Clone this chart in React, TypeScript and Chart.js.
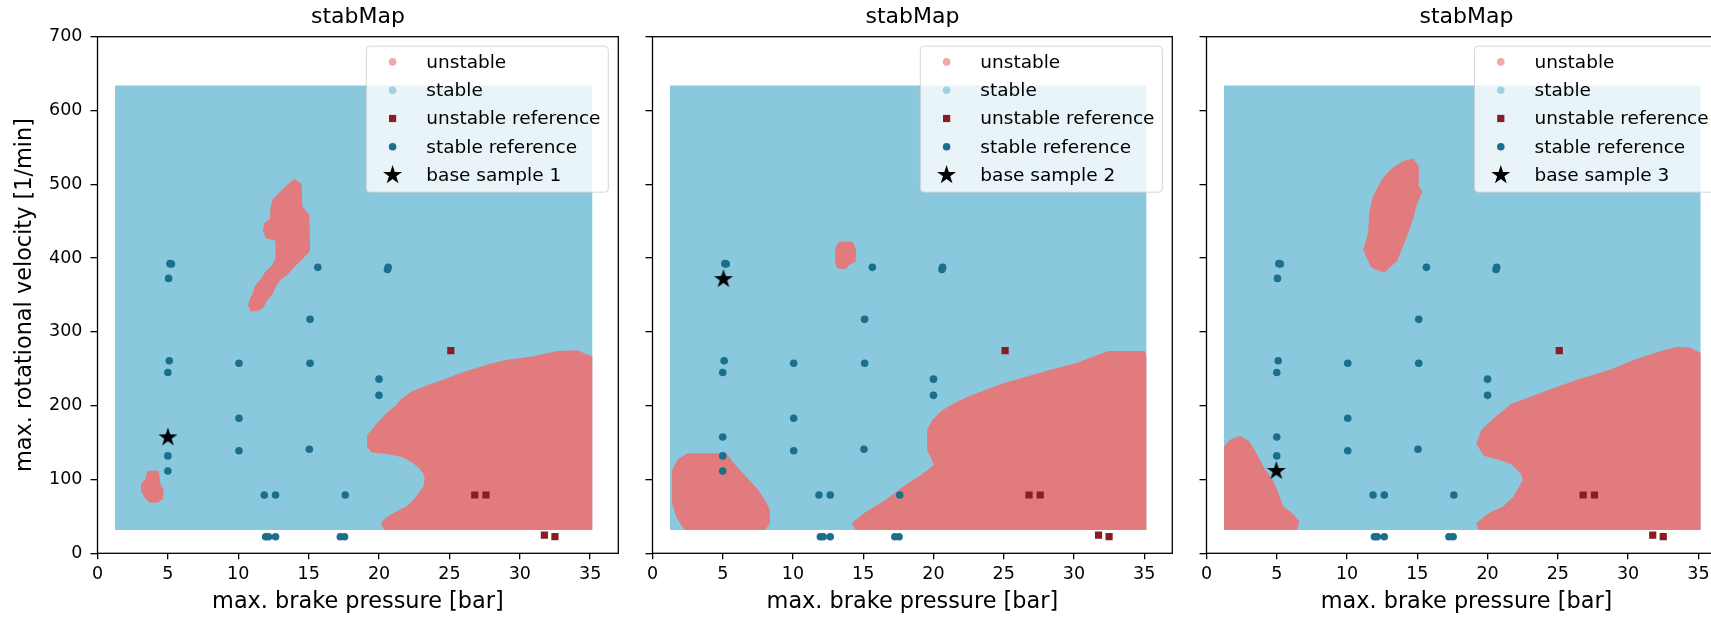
import React, { useEffect, useRef } from "react";
import { Chart, registerables } from "chart.js";

Chart.register(...registerables);

const FONT = "'DejaVu Sans', 'Liberation Sans', sans-serif";

// ---- axes ----
const X_TICKS = [0, 5, 10, 15, 20, 25, 30, 35];
const Y_TICKS = [0, 100, 200, 300, 400, 500, 600, 700];
const X_MIN = 0;
const X_MAX = 37;
const Y_MIN = 0;
const Y_MAX = 700;

// ---- texts ----
const PANEL_TITLES = ["stabMap", "stabMap", "stabMap"];
const X_LABEL = "max. brake pressure [bar]";
const Y_LABEL = "max. rotational velocity [1/min]";
const LEGEND_LABELS = ["unstable", "stable", "unstable reference", "stable reference"];
const BASE_LABELS = ["base sample 1", "base sample 2", "base sample 3"];

// ---- stability map: outline of the evaluated grid [pressure, velocity] ----
const STABLE_AREA: [number, number][] = [
  [1.3, 32.5], [35.1, 32.5], [35.1, 633], [1.3, 633], [1.3, 32.5],
];

// unstable regions, map 1
const UNSTABLE_1_A: [number, number][] = [
  [14.0, 506], [14.45, 500], [14.5, 470], [15.0, 458], [15.05, 410], [14.4, 397], [13.9, 388],
  [13.5, 379], [12.9, 370], [12.6, 361], [12.4, 352], [12.0, 343], [11.75, 334], [11.4, 329],
  [10.9, 329], [10.75, 336], [10.85, 344], [11.1, 352], [11.2, 361], [11.6, 370], [11.9, 379],
  [12.45, 390], [12.7, 400], [12.7, 424], [12.0, 428], [11.8, 438], [11.9, 447], [12.3, 452],
  [12.35, 470], [12.5, 479], [13.15, 492], [13.6, 500], [14.0, 506],
];
const UNSTABLE_1_B: [number, number][] = [
  [3.6, 111], [4.3, 111], [4.4, 95], [4.65, 85], [4.6, 74], [4.3, 70], [3.7, 70], [3.4, 76],
  [3.15, 84], [3.15, 94], [3.45, 100], [3.55, 108], [3.6, 111],
];
const UNSTABLE_1_C: [number, number][] = [
  [20.4, 32.5], [20.2, 40], [20.5, 47], [20.9, 52], [21.5, 58], [22.0, 63], [22.5, 72],
  [22.85, 81], [23.2, 90], [23.3, 100], [23.2, 108], [22.85, 117], [22.3, 125], [21.7, 131],
  [20.5, 136], [19.5, 137.7], [19.2, 145], [19.2, 160], [19.5, 166], [20.0, 178], [20.6, 190],
  [21.2, 199], [21.6, 208], [22.3, 218], [23.5, 227], [24.8, 236], [26.2, 246], [27.6, 254],
  [29.0, 261], [31.0, 266], [32.7, 273], [34.1, 274], [35.1, 266], [35.1, 32.5], [20.4, 32.5],
];

// unstable regions, map 2
const UNSTABLE_2_A: [number, number][] = [
  [13.3, 421], [14.2, 421], [14.45, 412], [14.4, 396], [14.0, 392], [13.7, 386], [13.2, 387],
  [13.05, 395], [13.05, 413], [13.3, 421],
];
const UNSTABLE_2_B: [number, number][] = [
  [2.5, 134.5], [5.2, 134.5], [5.95, 117], [6.7, 101.6], [7.47, 85.8], [8.0, 70], [8.3, 58.7],
  [8.3, 41], [8.0, 32.5], [2.3, 32.5], [1.74, 49.6], [1.45, 67.7], [1.45, 113], [1.86, 127],
  [2.5, 134.5],
];
const UNSTABLE_2_C: [number, number][] = [
  [14.5, 32.5], [14.24, 40.6], [15.13, 54.2], [16.66, 72.2], [17.93, 90.3], [19.2, 106],
  [20.1, 119.6], [19.6, 140], [19.6, 167], [19.97, 180.6], [20.74, 194], [21.76, 205],
  [22.53, 212], [23.8, 221], [25.08, 230], [26.35, 237], [28.4, 248], [30.2, 257],
  [31.46, 266], [32.5, 273], [35.03, 273], [35.1, 266], [35.1, 32.5], [14.5, 32.5],
];

// unstable regions, map 3
const UNSTABLE_3_A: [number, number][] = [
  [14.68, 534], [15.05, 524], [15.05, 497], [15.31, 490], [14.93, 474], [14.68, 456],
  [14.3, 433.6], [13.9, 415], [13.53, 397], [12.64, 381.6], [11.75, 388], [11.2, 411],
  [11.55, 433.6], [11.63, 460.7], [11.88, 483], [12.52, 506], [13.28, 521.7], [14.04, 530.7],
  [14.68, 534],
];
const UNSTABLE_3_B: [number, number][] = [
  [2.36, 158], [3.0, 151], [3.5, 135.5], [4.0, 117], [4.64, 99.3], [5.02, 83.5], [5.41, 63],
  [6.04, 54], [6.55, 42.8], [6.4, 32.5], [1.3, 32.5], [1.3, 144.4], [1.7, 153], [2.36, 158],
];
const UNSTABLE_3_C: [number, number][] = [
  [19.4, 32.5], [19.25, 40.6], [20.14, 54], [21.15, 63], [21.9, 76.7], [22.3, 90],
  [22.55, 99.3], [22.42, 108.4], [21.66, 122], [21.02, 126.4], [19.75, 133], [19.25, 149],
  [19.62, 167], [20.5, 183], [21.66, 201], [22.93, 210], [24.45, 221], [26.48, 235],
  [28.77, 248], [30.55, 262], [32.58, 274.5], [33.6, 279], [34.36, 278], [35.1, 271],
  [35.1, 32.5], [19.4, 32.5],
];

const UNSTABLE_AREAS = [
  [UNSTABLE_1_A, UNSTABLE_1_B, UNSTABLE_1_C],
  [UNSTABLE_2_A, UNSTABLE_2_B, UNSTABLE_2_C],
  [UNSTABLE_3_A, UNSTABLE_3_B, UNSTABLE_3_C],
];

// ---- measured reference points ----
const STABLE_REF: [number, number][] = [
  [5.15, 392.5], [5.25, 392], [5.05, 372.5], [15.65, 387.5], [20.6, 384.5], [20.65, 387.5],
  [15.1, 317], [5.1, 261], [5.0, 245], [10.05, 257.5], [15.1, 257.5], [20.0, 236], [20.0, 214],
  [10.05, 183], [5.0, 157.5], [5.0, 132], [5.0, 111.5], [10.05, 139], [15.05, 141],
  [11.85, 79], [12.65, 79], [17.6, 79], [11.95, 22.5], [12.15, 22.5], [12.65, 22.5],
  [17.25, 22.5], [17.55, 22.5],
];
const UNSTABLE_REF: [number, number][] = [
  [25.1, 274.5], [26.8, 79], [27.6, 79], [31.75, 24.5], [32.5, 22.5],
];
const BASE_SAMPLES: [number, number][] = [[5.0, 157], [5.05, 371.5], [4.97, 111.5]];

// ---- colours ----
const C_UNSTABLE = "#e27b7e";
const C_STABLE = "#8ac9dd";
const C_UNSTABLE_LEG = "#f0a8aa";
const C_STABLE_LEG = "#9ed2e3";
const C_UNSTABLE_REF = "#8b1c23";
const C_STABLE_REF = "#1b6e8c";

// ---- panel placement on the page ----
const PANELS = [
  { left: 0, width: 630, yAxisWidth: 97.5, padRight: 11.7, showY: true },
  { left: 630, width: 555, yAxisWidth: 22.5, padRight: 12.7, showY: false },
  { left: 1185, width: 555, yAxisWidth: 21.5, padRight: 13.5, showY: false },
];
const PLOT_TOP = 36.7;
const X_AXIS_HEIGHT = 66.7;
const HEIGHT = 620;

const toXY = (pts: [number, number][]) => pts.map(([x, y]) => ({ x, y }));

function starPath(g: CanvasRenderingContext2D, cx: number, cy: number, R: number) {
  const r = R * 0.382;
  g.beginPath();
  for (let k = 0; k < 10; k++) {
    const ang = -Math.PI / 2 + (k * Math.PI) / 5;
    const rad = k % 2 ? r : R;
    g.lineTo(cx + rad * Math.cos(ang), cy + rad * Math.sin(ang));
  }
  g.closePath();
}

function makeStarImage(R: number): HTMLCanvasElement {
  const size = Math.ceil(R * 2 + 4);
  const c = document.createElement("canvas");
  c.width = size;
  c.height = size;
  const g = c.getContext("2d")!;
  starPath(g, size / 2, size / 2, R);
  g.fillStyle = "#000";
  g.fill();
  return c;
}

function decorPlugin(idx: number) {
  return {
    id: "panelDecor" + idx,
    afterDraw(chart: Chart) {
      const { ctx, chartArea: a } = chart;
      ctx.save();
      // frame
      ctx.strokeStyle = "#000";
      ctx.lineWidth = 1.3;
      ctx.strokeRect(a.left, a.top, a.right - a.left, a.bottom - a.top);
      // title
      ctx.fillStyle = "#000";
      ctx.font = `22px ${FONT}`;
      ctx.textAlign = "center";
      ctx.textBaseline = "alphabetic";
      ctx.fillText(PANEL_TITLES[idx], (a.left + a.right) / 2, 23);
      // legend
      const bw = 242;
      const bh = 146;
      const bx = a.right - 10 - bw;
      const by = a.top + 9.5;
      const rr = 4;
      ctx.beginPath();
      ctx.moveTo(bx + rr, by);
      ctx.lineTo(bx + bw - rr, by);
      ctx.arcTo(bx + bw, by, bx + bw, by + rr, rr);
      ctx.lineTo(bx + bw, by + bh - rr);
      ctx.arcTo(bx + bw, by + bh, bx + bw - rr, by + bh, rr);
      ctx.lineTo(bx + rr, by + bh);
      ctx.arcTo(bx, by + bh, bx, by + bh - rr, rr);
      ctx.lineTo(bx, by + rr);
      ctx.arcTo(bx, by, bx + rr, by, rr);
      ctx.closePath();
      ctx.fillStyle = "rgba(255,255,255,0.8)";
      ctx.fill();
      ctx.strokeStyle = "rgba(204,204,204,0.8)";
      ctx.lineWidth = 1;
      ctx.stroke();

      const labels = [...LEGEND_LABELS, BASE_LABELS[idx]];
      const mx = bx + 26.3;
      const tx = bx + 60;
      ctx.font = `18.5px ${FONT}`;
      ctx.textAlign = "left";
      ctx.textBaseline = "middle";
      labels.forEach((lab, i) => {
        const cy = by + 15.7 + i * 28.3;
        if (i === 0 || i === 1 || i === 3) {
          ctx.fillStyle = i === 0 ? C_UNSTABLE_LEG : i === 1 ? C_STABLE_LEG : C_STABLE_REF;
          ctx.beginPath();
          ctx.arc(mx, cy, 3.8, 0, Math.PI * 2);
          ctx.fill();
        } else if (i === 2) {
          ctx.fillStyle = C_UNSTABLE_REF;
          ctx.fillRect(mx - 3.6, cy - 3.6, 7.2, 7.2);
        } else {
          starPath(ctx, mx, cy, 10);
          ctx.fillStyle = "#000";
          ctx.fill();
        }
        ctx.fillStyle = "#000";
        ctx.fillText(lab, tx, cy + 1);
      });
      ctx.restore();
    },
  };
}

function Panel({ idx }: { idx: number }) {
  const ref = useRef<HTMLCanvasElement>(null);
  const p = PANELS[idx];

  useEffect(() => {
    const star = makeStarImage(10);
    const polyDs = (pts: [number, number][], color: string, order: number) => ({
      data: toXY(pts),
      showLine: true,
      fill: "shape",
      backgroundColor: color,
      borderColor: color,
      borderWidth: 1.5,
      borderJoinStyle: "round",
      pointRadius: 0,
      tension: 0,
      order,
    });

    const datasets: any[] = [
      polyDs(STABLE_AREA, C_STABLE, 10),
      ...UNSTABLE_AREAS[idx].map((poly) => polyDs(poly, C_UNSTABLE, 9)),
      {
        data: toXY(STABLE_REF),
        pointStyle: "circle",
        pointRadius: 3.8,
        pointBackgroundColor: C_STABLE_REF,
        pointBorderWidth: 0,
        order: 3,
      },
      {
        data: toXY(UNSTABLE_REF),
        pointStyle: "rect",
        pointRadius: 5.1,
        pointBackgroundColor: C_UNSTABLE_REF,
        pointBorderWidth: 0,
        order: 3,
      },
      {
        data: toXY([BASE_SAMPLES[idx]]),
        pointStyle: star,
        pointRadius: 10,
        order: 1,
      },
    ];

    const chart = new Chart(ref.current!, {
      type: "scatter",
      data: { datasets },
      options: {
        animation: false,
        responsive: false,
        devicePixelRatio: 1,
        events: [],
        layout: { padding: { left: 0, top: PLOT_TOP, right: p.padRight, bottom: 0 } },
        plugins: {
          legend: { display: false },
          tooltip: { enabled: false },
          title: { display: false },
        },
        scales: {
          x: {
            type: "linear",
            min: X_MIN,
            max: X_MAX,
            afterBuildTicks: (s: any) => {
              s.ticks = X_TICKS.map((value) => ({ value }));
            },
            afterFit: (s: any) => {
              s.height = X_AXIS_HEIGHT;
            },
            grid: { drawOnChartArea: false, drawTicks: true, tickLength: 6, color: "#000", lineWidth: 1.3 },
            border: { display: false },
            ticks: {
              font: { family: FONT, size: 17.5 },
              color: "#000",
              padding: 5,
              maxRotation: 0,
              autoSkip: false,
            },
            title: {
              display: true,
              text: X_LABEL,
              color: "#000",
              font: { family: FONT, size: 22.4, lineHeight: 1.2 },
              padding: { top: 0, bottom: 4.4 },
            },
          },
          y: {
            type: "linear",
            min: Y_MIN,
            max: Y_MAX,
            afterBuildTicks: (s: any) => {
              s.ticks = Y_TICKS.map((value) => ({ value }));
            },
            afterFit: (s: any) => {
              s.width = p.yAxisWidth;
            },
            grid: { drawOnChartArea: false, drawTicks: true, tickLength: 7, color: "#000", lineWidth: 1.3 },
            border: { display: false },
            ticks: {
              display: p.showY,
              font: { family: FONT, size: 17.5 },
              color: "#000",
              padding: 8,
              autoSkip: false,
            },
            title: {
              display: p.showY,
              text: Y_LABEL,
              color: "#000",
              font: { family: FONT, size: 22.4, lineHeight: 1.2 },
              padding: { top: 11.4, bottom: 0 },
            },
          },
        },
      },
      plugins: [decorPlugin(idx)],
    } as any);
    return () => chart.destroy();
  }, []);

  return (
    <canvas
      ref={ref}
      width={p.width}
      height={HEIGHT}
      style={{ position: "absolute", left: p.left, top: 0, width: p.width, height: HEIGHT }}
    />
  );
}

export default function App() {
  return (
    <div
      style={{
        position: "absolute",
        left: 0,
        top: 0,
        width: 1711,
        height: HEIGHT,
        overflow: "hidden",
        background: "#fff",
      }}
    >
      {PANELS.map((_, i) => (
        <Panel key={i} idx={i} />
      ))}
    </div>
  );
}
